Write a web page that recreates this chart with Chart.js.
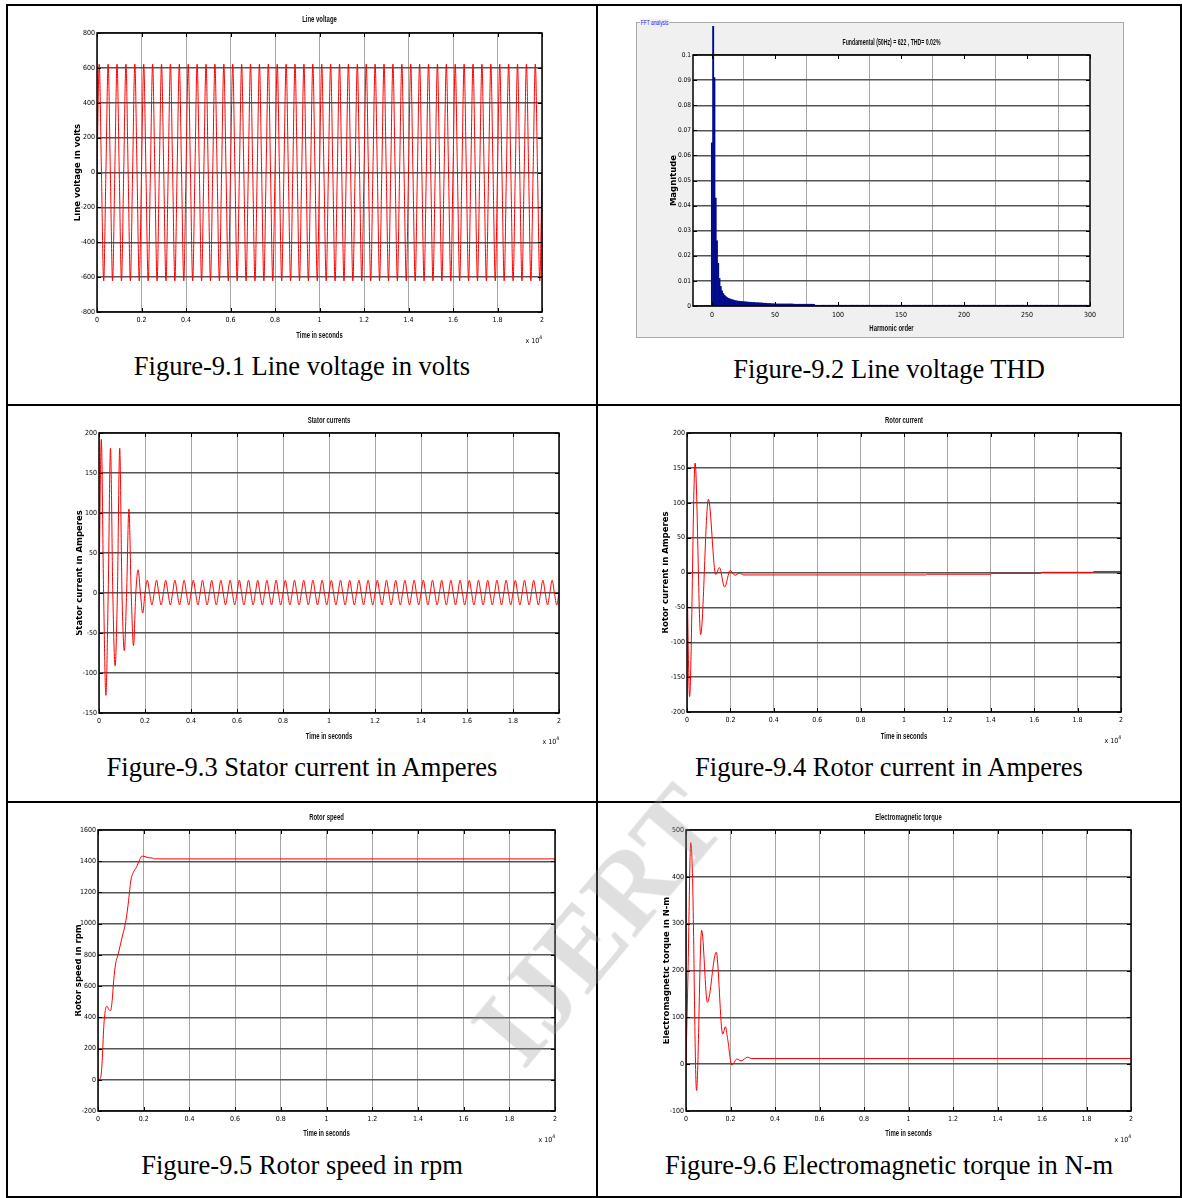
<!doctype html>
<html lang="en">
<head>
<meta charset="UTF-8" />
<title>Figure 9.1 - 9.6</title>
<script src="https://cdn.jsdelivr.net/npm/chart.js"></script>
<style>
  html, body { margin: 0; padding: 0; background: #fff; overflow: hidden; }
  .pagina { position: relative; width: 1182px; height: 1198px; }
  .linha { position: absolute; background: #000; }
  canvas { position: absolute; }
  .legenda {
    position: absolute; height: 30px; line-height: 30px; text-align: center;
    font-family: "Liberation Serif", "Times New Roman", serif; font-size: 26.5px;
    color: #000; white-space: nowrap;
  }
  .esq { left: 8px; width: 588px; }
  .dir { left: 598px; width: 582px; }
  .painel-fft {
    position: absolute; left: 636px; top: 22px; width: 488px; height: 316px;
    background: #f0f0f0; border: 1px solid #a9a9a9; box-sizing: border-box;
  }
  .painel-fft span {
    position: absolute; left: 3px; top: -4px; padding: 0 1px; background: #f0f0f0;
    font: 6.5px "Liberation Sans", sans-serif; line-height: 7px; color: #2020ff;
    transform: scaleX(0.75); transform-origin: left center; white-space: nowrap;
  }
  .marca {
    position: absolute; left: 598px; top: 925px; transform: translate(-50%, -50%) rotate(-50deg);
    font: bold 110px "Liberation Serif", serif; line-height: 1; color: rgba(150, 150, 150, 0.3);
    white-space: nowrap; pointer-events: none;
  }
</style>
</head>
<body>
<div class="pagina">
  <div class="painel-fft"><span>FFT analysis</span></div>

  <canvas id="c1"></canvas>
  <canvas id="c2"></canvas>
  <canvas id="c3"></canvas>
  <canvas id="c4"></canvas>
  <canvas id="c5"></canvas>
  <canvas id="c6"></canvas>

  <!-- bordas da tabela -->
  <div class="linha" style="left:6px; top:4px; width:1176px; height:2px"></div>
  <div class="linha" style="left:6px; top:404px; width:1176px; height:2px"></div>
  <div class="linha" style="left:6px; top:801px; width:1176px; height:2px"></div>
  <div class="linha" style="left:6px; top:1196px; width:1176px; height:2px"></div>
  <div class="linha" style="left:6px; top:4px; width:2px; height:1194px"></div>
  <div class="linha" style="left:596px; top:4px; width:2px; height:1194px"></div>
  <div class="linha" style="left:1180px; top:4px; width:2px; height:1194px"></div>

  <div class="legenda esq" style="top:351px">Figure-9.1 Line voltage in volts</div>
  <div class="legenda dir" style="top:354px">Figure-9.2 Line voltage THD</div>
  <div class="legenda esq" style="top:752px">Figure-9.3 Stator current in Amperes</div>
  <div class="legenda dir" style="top:752px">Figure-9.4 Rotor current in Amperes</div>
  <div class="legenda esq" style="top:1150px">Figure-9.5 Rotor speed in rpm</div>
  <div class="legenda dir" style="top:1150px">Figure-9.6 Electromagnetic torque in N-m</div>

  <div class="marca">IJERT</div>
</div>

<script>
  // ---- dados ----
  // sinais periodicos: um ponto a cada STEP amostras (eixo x em amostras x 10^4)
  var STEP = 100;

  var lineVoltage = [
    0, 622, 0, -622, 0, 622, 0, -622, 0, 622, 0, -622, 0, 622, 0, -622, 0, 622, 0, -622,
    0, 622, 0, -622, 0, 622, 0, -622, 0, 622, 0, -622, 0, 622, 0, -622, 0, 622, 0, -622,
    0, 622, 0, -622, 0, 622, 0, -622, 0, 622, 0, -622, 0, 622, 0, -622, 0, 622, 0, -622,
    0, 622, 0, -622, 0, 622, 0, -622, 0, 622, 0, -622, 0, 622, 0, -622, 0, 622, 0, -622,
    0, 622, 0, -622, 0, 622, 0, -622, 0, 622, 0, -622, 0, 622, 0, -622, 0, 622, 0, -622,
    0, 622, 0, -622, 0, 622, 0, -622, 0, 622, 0, -622, 0, 622, 0, -622, 0, 622, 0, -622,
    0, 622, 0, -622, 0, 622, 0, -622, 0, 622, 0, -622, 0, 622, 0, -622, 0, 622, 0, -622,
    0, 622, 0, -622, 0, 622, 0, -622, 0, 622, 0, -622, 0, 622, 0, -622, 0, 622, 0, -622,
    0, 622, 0, -622, 0, 622, 0, -622, 0, 622, 0, -622, 0, 622, 0, -622, 0, 622, 0, -622,
    0, 622, 0, -622, 0, 622, 0, -622, 0, 622, 0, -622, 0, 622, 0, -622, 0, 622, 0, -622,
    0
  ];

  var statorCurrent = [
    0, 192, 0, -128, 0, 181, 0, -91, 0, 181, 0, -72, 0, 105, 0, -66, 0, 29, 0, -25, 0,
    16, 0, -15, 0, 16, 0, -15, 0, 16, 0, -15, 0, 16, 0, -15, 0, 16, 0, -15, 0,
    16, 0, -15, 0, 16, 0, -15, 0, 16, 0, -15, 0, 16, 0, -15, 0, 16, 0, -15, 0,
    16, 0, -15, 0, 16, 0, -15, 0, 16, 0, -15, 0, 16, 0, -15, 0, 16, 0, -15, 0,
    16, 0, -15, 0, 16, 0, -15, 0, 16, 0, -15, 0, 16, 0, -15, 0, 16, 0, -15, 0,
    16, 0, -15, 0, 16, 0, -15, 0, 16, 0, -15, 0, 16, 0, -15, 0, 16, 0, -15, 0,
    16, 0, -15, 0, 16, 0, -15, 0, 16, 0, -15, 0, 16, 0, -15, 0, 16, 0, -15, 0,
    16, 0, -15, 0, 16, 0, -15, 0, 16, 0, -15, 0, 16, 0, -15, 0, 16, 0, -15, 0,
    16, 0, -15, 0, 16, 0, -15, 0, 16, 0, -15, 0, 16, 0, -15, 0, 16, 0, -15, 0,
    16, 0, -15, 0, 16, 0, -15, 0, 16, 0, -15, 0, 16, 0, -15, 0, 16, 0, -15, 0
  ];

  // sinais lentos: instante (amostras) e valor
  var rotorT = [0, 119, 374, 629, 986, 1325, 1495, 1733, 1988, 2209, 2413, 2617,
                11000, 11050, 14000, 14050, 16300, 16350, 18700, 18750, 20000];
  var rotorI = [0, -178, 157, -89, 105, -3, 7, -21, 3, -4, -1, -3.5,
                -3.5, -2.5, -2.5, -1.2, -1.2, 0.3, 0.3, 1.5, 1.5];

  var speedT = [0, 117, 184, 251, 318, 402, 469, 553, 620, 687, 771, 888, 1056, 1224,
                1341, 1441, 1525, 1693, 1827, 1927, 2061, 2229, 2397, 2480, 20000];
  var speedRpm = [0, 14, 122, 336, 443, 471, 450, 443, 507, 636, 743, 807, 914, 1021,
                  1150, 1279, 1322, 1365, 1412, 1433, 1429, 1422, 1420, 1415, 1415];

  var torqueT = [0, 92, 214, 290, 473, 702, 962, 1359, 1649, 1771, 1863, 2061, 2290,
                 2473, 2779, 2932, 20000];
  var torqueNm = [0, 200, 473, 407, -56, 286, 132, 239, 64, 80, 57, -2, 11,
                  7, 15, 12, 12];

  // espectro: indice = ordem harmonica (0..300); a fundamental sai fora da escala
  var fftMag = [
    0.065, 100, 0.091, 0.043, 0.026, 0.017, 0.011, 0.0078, 0.006, 0.005,
    0.0043, 0.0038, 0.0034, 0.0031, 0.0029, 0.0027, 0.0025, 0.0024, 0.0022, 0.0021,
    0.002, 0.0019, 0.0019, 0.0018, 0.0018, 0.0017, 0.0017, 0.0016, 0.0016, 0.0015,
    0.0015, 0.0015, 0.0014, 0.0014, 0.0014, 0.0013, 0.0013, 0.0013, 0.0012, 0.0012,
    0.0012, 0.0011, 0.0011, 0.0011, 0.001, 0.001, 0.001, 0.0009, 0.0009, 0.0009,
    0.0008, 0.0008, 0.0008, 0.0008, 0.0008, 0.0008, 0.0008, 0.0008, 0.0008, 0.0008,
    0.0008, 0.0008, 0.0008, 0.0008, 0.0008, 0.0007, 0.0007, 0.0007, 0.0007, 0.0007,
    0.0007, 0.0007, 0.0007, 0.0007, 0.0007, 0.0007, 0.0007, 0.0007, 0.0007, 0.0007,
    0.0007, 0.0007, 0.0003, 0.0003, 0.0003, 0.0003, 0.0003, 0.0003, 0.0003, 0.0003,
    0.0003, 0.0003, 0.0003, 0.0003, 0.0003, 0.0003, 0.0003, 0.0003, 0.0003, 0.0003,
    0.0003, 0.0003, 0.0003, 0.0003, 0.0003, 0.0003, 0.0003, 0.0003, 0.0003, 0.0003,
    0.0003, 0.0003, 0.0003, 0.0003, 0.0003, 0.0003, 0.0003, 0.0003, 0.0003, 0.0003,
    0.0003, 0.0003, 0.0003, 0.0003, 0.0003, 0.0003, 0.0003, 0.0003, 0.0003, 0.0003,
    0.0003, 0.0003, 0.0003, 0.0003, 0.0003, 0.0003, 0.0003, 0.0003, 0.0003, 0.0003,
    0.0003, 0.0003, 0.0003, 0.0003, 0.0003, 0.0003, 0.0003, 0.0003, 0.0003, 0.0003,
    0.0003, 0.0003, 0.0003, 0.0003, 0.0003, 0.0003, 0.0003, 0.0003, 0.0003, 0.0003,
    0.0003, 0.0003, 0.0003, 0.0003, 0.0003, 0.0003, 0.0003, 0.0003, 0.0003, 0.0003,
    0.0003, 0.0003, 0.0003, 0.0003, 0.0003, 0.0003, 0.0003, 0.0003, 0.0003, 0.0003,
    0.0003, 0.0003, 0.0003, 0.0003, 0.0003, 0.0003, 0.0003, 0.0003, 0.0003, 0.0003,
    0.0003, 0.0003, 0.0003, 0.0003, 0.0003, 0.0003, 0.0003, 0.0003, 0.0003, 0.0003,
    0.0003, 0.0003, 0.0003, 0.0003, 0.0003, 0.0003, 0.0003, 0.0003, 0.0003, 0.0003,
    0.0003, 0.0003, 0.0003, 0.0003, 0.0003, 0.0003, 0.0003, 0.0003, 0.0003, 0.0003,
    0.0003, 0.0003, 0.0003, 0.0003, 0.0003, 0.0003, 0.0003, 0.0003, 0.0003, 0.0003,
    0.0003, 0.0003, 0.0003, 0.0003, 0.0003, 0.0003, 0.0003, 0.0003, 0.0003, 0.0003,
    0.0003, 0.0003, 0.0003, 0.0003, 0.0003, 0.0003, 0.0003, 0.0003, 0.0003, 0.0003,
    0.0003, 0.0003, 0.0003, 0.0003, 0.0003, 0.0003, 0.0003, 0.0003, 0.0003, 0.0003,
    0.0003, 0.0003, 0.0003, 0.0003, 0.0003, 0.0003, 0.0003, 0.0003, 0.0003, 0.0003,
    0.0003, 0.0003, 0.0003, 0.0003, 0.0003, 0.0003, 0.0003, 0.0003, 0.0003, 0.0003,
    0.0003, 0.0003, 0.0003, 0.0003, 0.0003, 0.0003, 0.0003, 0.0003, 0.0003, 0.0003,
    0.0003, 0.0003, 0.0003, 0.0003, 0.0003, 0.0003, 0.0003, 0.0003, 0.0003, 0.0003,
    0.0003
  ];
  var harmonicTicks = [0, 50, 100, 150, 200, 250, 300];

  // ---- estilo ----
  var NARROW = "'Liberation Sans Narrow', 'DejaVu Sans Condensed', 'Arial Narrow', sans-serif";
  var ARIAL = "'Liberation Sans', Arial, sans-serif";
  var BOLD = "'DejaVu Sans', 'Liberation Sans', sans-serif";
  var RED = '#ff0000';
  var TOP_ROOM = 32;   // espaco acima da caixa (titulo e barra da fundamental)

  Chart.defaults.animation = false;
  Chart.defaults.color = '#000';
  Chart.defaults.font.family = NARROW;

  // texto estreito (Arial comprimida, como o Helvetica reduzido do MATLAB)
  function narrowText(ctx, text, cx, cy, size, squeeze) {
    ctx.save();
    ctx.translate(cx, cy);
    ctx.scale(squeeze, 1);
    ctx.font = 'bold ' + size + 'px ' + ARIAL;
    ctx.fillStyle = '#111';
    ctx.textAlign = 'center';
    ctx.textBaseline = 'middle';
    ctx.fillText(text, 0, 0);
    ctx.restore();
  }

  // caixa, marcas internas, titulos e "x 10^4" como no MATLAB
  var matlabAxes = {
    id: 'matlabAxes',
    beforeDraw: function (chart) {
      var a = chart.chartArea, ctx = chart.ctx;
      ctx.save();
      ctx.fillStyle = '#fff';
      ctx.fillRect(a.left, a.top, a.right - a.left, a.bottom - a.top);
      ctx.restore();
    },
    afterDraw: function (chart, args, opts) {
      var a = chart.chartArea, ctx = chart.ctx, sx = chart.scales.x, sy = chart.scales.y;
      var cx = (a.left + a.right) / 2;
      ctx.save();
      ctx.strokeStyle = '#000';
      ctx.lineWidth = 1;
      ctx.beginPath();
      sx.ticks.forEach(function (tk) {
        var p = Math.round(sx.getPixelForValue(tk.value)) + 0.5;
        ctx.moveTo(p, a.bottom); ctx.lineTo(p, a.bottom - 4);
        ctx.moveTo(p, a.top); ctx.lineTo(p, a.top + 4);
      });
      sy.ticks.forEach(function (tk) {
        var p = Math.round(sy.getPixelForValue(tk.value)) + 0.5;
        ctx.moveTo(a.left, p); ctx.lineTo(a.left + 4, p);
        ctx.moveTo(a.right, p); ctx.lineTo(a.right - 4, p);
      });
      ctx.stroke();
      ctx.lineWidth = 1.5;
      ctx.strokeRect(a.left, a.top, a.right - a.left, a.bottom - a.top);

      narrowText(ctx, opts.title, cx, a.top - opts.titleGap, 8.5, opts.titleSqueeze);
      narrowText(ctx, opts.xTitle, cx, a.bottom + opts.xTitleGap, 8.5, 0.7);

      if (opts.exponent) {
        ctx.fillStyle = '#000';
        ctx.textBaseline = 'alphabetic';
        ctx.textAlign = 'right';
        ctx.font = '5px ' + NARROW;
        var w = ctx.measureText('4').width;
        ctx.fillText('4', a.right, a.bottom + 27);
        ctx.font = '7px ' + NARROW;
        ctx.fillText('x 10', a.right - w, a.bottom + 31);
      }
      ctx.restore();
    }
  };

  function fmt(v) { return String(Math.round(v * 1e6) / 1e6); }

  function uniform(values) {
    return values.map(function (v, i) { return { x: i * STEP / 1e4, y: v }; });
  }
  function paired(ts, vs) {
    return ts.map(function (t, i) { return { x: t / 1e4, y: vs[i] }; });
  }

  function build(id, lay, type, datasets, xs, ys) {
    var cv = document.getElementById(id);
    var l = lay.box[0], t = lay.box[1], r = lay.box[2], b = lay.box[3];
    var left = lay.yTitleX - 4, top = t - TOP_ROOM;
    var hx = lay.xTitleY + 6 - b;
    var width = r + 14 - left, height = b + hx + 8 - top;
    cv.width = width; cv.height = height;
    cv.style.left = left + 'px'; cv.style.top = top + 'px';
    cv.style.width = width + 'px'; cv.style.height = height + 'px';
    var tickSize = ys.fontSize || 7;

    var xScale = {
      type: 'linear', min: xs.min, max: xs.max, offset: false,
      ticks: { stepSize: xs.step, padding: xs.pad, font: { size: 7, lineHeight: 1 },
               maxRotation: 0, autoSkip: false, callback: fmt },
      grid: { color: '#a6a6a6', lineWidth: 1, drawTicks: false },
      border: { display: false },
      afterFit: function (s) { s.height = hx; s.paddingLeft = 0; s.paddingRight = 0; }
    };
    if (xs.ticks) {
      xScale.afterBuildTicks = function (s) {
        s.ticks = xs.ticks.map(function (v) { return { value: v }; });
      };
    }
    return new Chart(cv, {
      type: type,
      data: { datasets: datasets },
      plugins: [matlabAxes],
      options: {
        responsive: false,
        devicePixelRatio: 1,
        layout: { padding: { left: 0, top: TOP_ROOM, right: 14, bottom: 8 } },
        plugins: {
          legend: { display: false },
          tooltip: { enabled: false },
          title: { display: false },
          matlabAxes: {
            exponent: lay.exponent, title: lay.title, titleGap: t - lay.titleY,
            titleSqueeze: lay.squeeze || 0.7, xTitle: xs.title, xTitleGap: lay.xTitleY - b
          }
        },
        scales: {
          x: xScale,
          y: {
            type: 'linear', min: ys.min, max: ys.max,
            ticks: { stepSize: ys.step, padding: 2, font: { size: tickSize, lineHeight: 1 },
                     autoSkip: false, callback: fmt },
            grid: { color: '#555555', lineWidth: 1.4, drawTicks: false },
            border: { display: false },
            title: { display: true, text: ys.title, padding: 0,
                     font: { family: BOLD, size: 8.5, weight: 'bold', lineHeight: '8px' } },
            afterFit: function (s) { s.width = l - left; s.paddingTop = 0; s.paddingBottom = 0; }
          }
        }
      }
    });
  }

  function redLine(points) {
    return { data: points, borderColor: RED, borderWidth: 1, pointRadius: 0,
             cubicInterpolationMode: 'monotone', fill: false };
  }

  var timeAxis = { min: 0, max: 2, step: 0.2, pad: 5, title: 'Time in seconds' };

  build('c1',
    { box: [97, 33, 542, 312], titleY: 20, yTitleX: 78, xTitleY: 336, title: 'Line voltage', exponent: true },
    'line', [redLine(uniform(lineVoltage))], timeAxis,
    { min: -800, max: 800, step: 200, title: 'Line voltage in volts' });

  build('c2',
    { box: [693, 55, 1090, 306], titleY: 43, yTitleX: 674, xTitleY: 329,
      title: 'Fundamental (50Hz) = 622 , THD= 0.02%', squeeze: 0.61, exponent: false },
    'bar',
    [{ data: fftMag.map(function (v, h) { return { x: h, y: v }; }),
       backgroundColor: '#000c8c', borderWidth: 0, barPercentage: 1, categoryPercentage: 1,
       clip: { left: 0, top: 29, right: 0, bottom: 0 } }],
    { min: -15, max: 300, step: 50, pad: 6, title: 'Harmonic order', ticks: harmonicTicks },
    { min: 0, max: 0.1, step: 0.01, title: 'Magnitude', fontSize: 6.5 });

  build('c3',
    { box: [99, 433, 559, 713], titleY: 421, yTitleX: 80, xTitleY: 737, title: 'Stator currents', exponent: true },
    'line', [redLine(uniform(statorCurrent))], timeAxis,
    { min: -150, max: 200, step: 50, title: 'Stator current in Amperes' });

  build('c4',
    { box: [687, 433, 1121, 712], titleY: 421, yTitleX: 666, xTitleY: 737, title: 'Rotor current', exponent: true },
    'line', [redLine(paired(rotorT, rotorI))], timeAxis,
    { min: -200, max: 200, step: 50, title: 'Rotor current in Amperes' });

  build('c5',
    { box: [98, 830, 555, 1111], titleY: 818, yTitleX: 79, xTitleY: 1134, title: 'Rotor speed', exponent: true },
    'line', [redLine(paired(speedT, speedRpm))], timeAxis,
    { min: -200, max: 1600, step: 200, title: 'Rotor speed in rpm' });

  build('c6',
    { box: [686, 830, 1131, 1111], titleY: 818, yTitleX: 667, xTitleY: 1134, title: 'Electromagnetic torque', exponent: true },
    'line', [redLine(paired(torqueT, torqueNm))], timeAxis,
    { min: -100, max: 500, step: 100, title: 'Electromagnetic torque in N-m' });
</script>
</body>
</html>
